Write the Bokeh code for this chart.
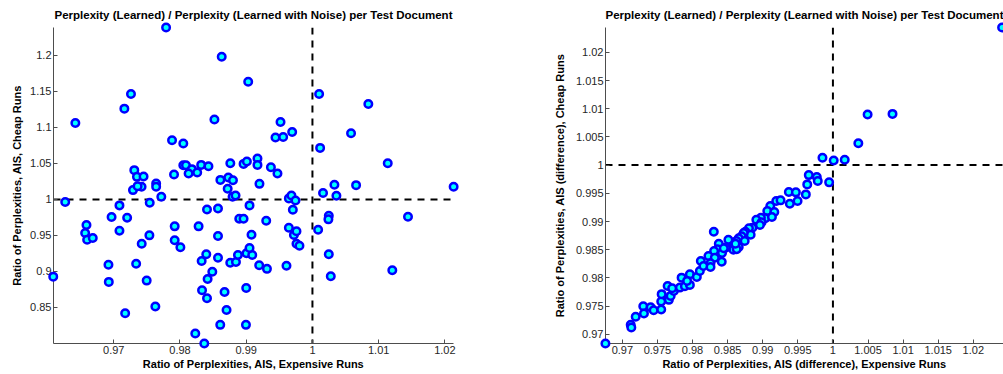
from bokeh.plotting import figure
from bokeh.layouts import row
from bokeh.models import Range1d, Span, FixedTicker
from bokeh.embed import file_html
from bokeh.resources import INLINE

# ---------------- data ----------------
left_x = [0.9779, 0.9863, 0.9903, 0.9726, 0.9716, 0.9642, 0.9852, 0.9788, 0.9805, 0.9731,
          0.9735, 0.9745, 0.9791, 0.9805, 0.9809, 0.9818, 0.9813, 0.9826, 0.9832, 0.9843,
          0.9861, 0.9873, 0.9880, 0.9872, 0.9876, 0.9896, 0.9901, 0.9917, 0.9917, 0.9920,
          0.9729, 0.9742, 0.9764, 0.9764,
          0.99373, 0.99472, 0.99442, 0.99558, 0.99518, 0.99694, 1.00101, 1.00116, 1.00583, 1.00844,
          1.01137, 1.00332, 1.00659, 1.02132, 1.00160, 0.97360,
          0.97718, 0.97543, 0.97086, 0.96267, 0.96967, 0.97202, 0.96588, 0.96568, 0.96598, 0.96683,
          0.97086, 0.97538, 0.97422, 0.96920, 0.96925, 0.97338, 0.97497, 0.96086, 0.97172, 0.97628,
          0.97920, 0.97920, 0.98006, 0.98281, 0.98408, 0.98574, 0.98574, 0.98397, 0.98327, 0.98574,
          0.98488, 0.98417, 0.98333, 0.98408, 0.98673, 0.98703, 0.98608, 0.98231, 0.98367, 0.98996,
          0.99000, 0.98759, 0.98845, 0.98875, 0.99004, 0.99091, 0.99050, 0.99080, 0.98895, 0.98960,
          0.99050, 0.98794, 0.98839, 0.99196,
          0.99313, 0.99302, 0.99608, 0.99644, 0.99683, 0.99744, 0.99704, 0.99644, 0.99720, 0.99759,
          0.99759, 0.99804, 1.00086, 1.00247, 1.00241, 1.00247, 1.00277, 1.00362, 1.01443, 1.01206]
left_y = [1.2386, 1.1980, 1.1634, 1.1463, 1.1260, 1.1060, 1.1108, 1.0821, 1.0776, 1.0406,
          1.0313, 1.0318, 1.0346, 1.0475, 1.0475, 1.0420, 1.0360, 1.0374, 1.0479, 1.0461,
          1.0271, 1.0305, 1.0267, 1.0147, 1.0503, 1.0493, 1.0526, 1.0568, 1.0479, 1.0216,
          1.0129, 1.0175, 1.0222, 1.0175,
          1.0447, 1.0360, 1.0859, 1.0867, 1.1075, 1.0936, 1.1463, 1.0715, 1.0918, 1.1324,
          1.0503, 1.0203, 1.0198, 1.0175, 1.0090, 1.0184,
          1.0036, 0.9953, 0.9917, 0.9963, 0.9755, 0.9745, 0.9644, 0.9533, 0.9441, 0.9464,
          0.9565, 0.9501, 0.9385, 0.9094, 0.8855, 0.9108, 0.8873, 0.8928, 0.8421, 0.8513,
          0.9626, 0.9432, 0.9335, 0.9626, 0.9861, 0.9875, 0.9492, 0.9238, 0.9146, 0.9191,
          0.8997, 0.8896, 0.8740, 0.8629, 0.8716, 0.8466, 0.8259, 0.8139, 0.8000, 0.8259,
          0.8770, 0.9122, 0.9132, 0.9229, 0.9252, 0.9229, 0.9325, 0.9510, 0.9731, 0.9731,
          0.9917, 1.0036, 1.0055, 0.9086,
          0.9036, 0.9704, 0.9080, 1.0014, 1.0055, 0.9986, 0.9856, 0.9607, 0.9506, 0.9557,
          0.9385, 0.9357, 0.9579, 0.9773, 0.9723, 0.9238, 0.8934, 1.0050, 0.9759, 0.9017]

right_x = [1.0241, 1.00494, 1.00849, 1.00362, 0.99851, 1.00011, 1.00168, 0.99656, 0.99770, 0.99784,
           0.99634, 0.99946,
           0.99372, 0.99472, 0.99614, 0.99386, 0.99496, 0.99193, 0.99254, 0.99108, 0.99065, 0.99165,
           0.99037, 0.99131, 0.98974, 0.98909, 0.98984, 0.98960, 0.98852, 0.98804, 0.98753, 0.98828,
           0.98729, 0.98700, 0.98303, 0.98658, 0.98625, 0.98582, 0.98511, 0.98658, 0.98582, 0.98473,
           0.98374, 0.98355, 0.98420, 0.98307, 0.98227, 0.98317,
           0.96759, 0.97119, 0.97128, 0.97190, 0.97298, 0.97308, 0.97403, 0.97446, 0.97554, 0.97554,
           0.97560, 0.97645, 0.97663, 0.97688, 0.97734, 0.97710, 0.97820, 0.97844, 0.97891, 0.97962,
           0.97962, 0.97923, 0.98061, 0.98104, 0.98118, 0.98156, 0.98256, 0.98256, 0.98416,
           0.98445, 0.98629, 0.98611, 0.98743]
right_y = [1.0244, 1.00897, 1.00908, 1.00389, 1.00129, 1.00083, 1.00094, 0.99823, 0.99788, 0.99717,
           0.99658, 0.99694,
           0.99522, 0.99517, 0.99481, 0.99315, 0.99363, 0.99363, 0.99375, 0.99274, 0.99186, 0.99168,
           0.99057, 0.99080, 0.99067, 0.99032, 0.98986, 0.98938, 0.98890, 0.98879, 0.98820, 0.98766,
           0.98796, 0.98738, 0.98820, 0.98702, 0.98655, 0.98619, 0.98678, 0.98549, 0.98501, 0.98537,
           0.98607, 0.98508, 0.98442, 0.98478, 0.98389, 0.98359,
           0.96837, 0.97168, 0.97120, 0.97310, 0.97499, 0.97368, 0.97481, 0.97428, 0.97439, 0.97581,
           0.97712, 0.97858, 0.97611, 0.97681, 0.97770, 0.97818, 0.97828, 0.98005, 0.97853, 0.98065,
           0.97876, 0.97947, 0.98018, 0.98124, 0.98301, 0.98212, 0.98260, 0.98195, 0.98288,
           0.98526, 0.98508, 0.98607, 0.98655]

title_text = "Perplexity (Learned) / Perplexity (Learned with Noise) per Test Document"
left_xlabel = "Ratio of Perplexities, AIS, Expensive Runs"
left_ylabel = "Ratio of Perplexities, AIS, Cheap Runs"
right_xlabel = "Ratio of Perplexities, AIS (difference), Expensive Runs"
right_ylabel = "Ratio of Perplexities, AIS (difference), Cheap Runs"

left_xticks = [0.97, 0.98, 0.99, 1.0, 1.01, 1.02]
left_xtick_labels = ["0.97", "0.98", "0.99", "1", "1.01", "1.02"]
left_yticks = [0.85, 0.9, 0.95, 1.0, 1.05, 1.1, 1.15, 1.2]
left_ytick_labels = ["0.85", "0.9", "0.95", "1", "1.05", "1.1", "1.15", "1.2"]
right_xticks = [0.97, 0.975, 0.98, 0.985, 0.99, 0.995, 1.0, 1.005, 1.01, 1.015, 1.02]
right_xtick_labels = ["0.97", "0.975", "0.98", "0.985", "0.99", "0.995", "1", "1.005", "1.01", "1.015", "1.02"]
right_yticks = [0.97, 0.975, 0.98, 0.985, 0.99, 0.995, 1.0, 1.005, 1.01, 1.015, 1.02]
right_ytick_labels = right_xtick_labels

FONT = "Liberation Sans"


def make_fig(width, mbl, mbr, ylab_standoff, xr, yr, xs, ys, xt, xtl, yt, ytl, xl, yl):
    p = figure(width=width, height=374, x_range=Range1d(*xr), y_range=Range1d(*yr),
               output_backend="svg", toolbar_location=None,
               min_border_left=mbl, min_border_right=mbr, min_border_top=27, min_border_bottom=31)
    p.title.text = title_text
    p.title.align = "center"
    p.title.vertical_align = "middle"
    p.title.text_font = FONT
    p.title.text_font_size = "11.5px"
    p.title.text_font_style = "bold"
    p.title.text_color = "black"
    p.title.standoff = 12
    p.outline_line_color = None
    p.xgrid.visible = False
    p.ygrid.visible = False
    p.background_fill_color = "white"
    p.border_fill_color = "white"
    for ax, ticks, labels, lab in ((p.xaxis[0], xt, xtl, xl), (p.yaxis[0], yt, ytl, yl)):
        ax.ticker = FixedTicker(ticks=ticks)
        ax.major_label_overrides = dict(zip(ticks, labels))
        ax.axis_label = lab
        ax.axis_label_text_font = FONT
        ax.axis_label_text_font_size = "11px"
        ax.axis_label_text_font_style = "bold"
        ax.axis_label_text_color = "black"
        ax.major_label_text_font = FONT
        ax.major_label_text_font_size = "11px"
        ax.major_label_text_color = "#262626"
        ax.axis_line_color = "#4d4d4d"
        ax.major_tick_line_color = "#4d4d4d"
        ax.major_tick_in = 4
        ax.major_tick_out = 0
        ax.minor_tick_line_color = None
        ax.major_label_standoff = 2
        ax.axis_label_standoff = 1
    p.yaxis[0].axis_label_standoff = ylab_standoff
    for dim in ("height", "width"):
        p.add_layout(Span(location=1.0, dimension=dim, line_color="black", line_width=2,
                          line_dash="7 6", level="underlay"))
    r = p.scatter(xs, ys, size=7.5, marker="circle", fill_color="#00FFFF",
                  line_color="#0000FF", line_width=2.5)
    r.level = "overlay"
    return p


p1 = make_fig(500, 53, 47, 4, (0.9609, 1.0213), (0.8, 1.2386), left_x, left_y,
              left_xticks, left_xtick_labels, left_yticks, left_ytick_labels,
              left_xlabel, left_ylabel)
p2 = make_fig(503, 105, 0, 7, (0.9676, 1.0243), (0.96837, 1.0244), right_x, right_y,
              right_xticks, right_xtick_labels, right_yticks, right_ytick_labels,
              right_xlabel, right_ylabel)

layout = row(p1, p2)
open("out.html", "w").write(file_html(layout, INLINE))
